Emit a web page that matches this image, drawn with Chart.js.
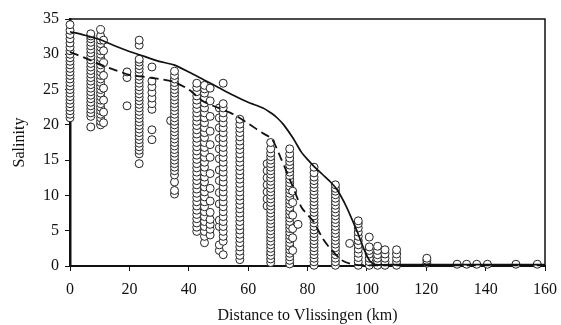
<!DOCTYPE html>
<html>
<head>
<meta charset="utf-8">
<script src="https://cdn.jsdelivr.net/npm/chart.js@4/dist/chart.umd.min.js"></script>
<style>
html,body{margin:0;padding:0;background:#fff;}
#wrap{width:561px;height:325px;}
</style>
</head>
<body>
<div id="wrap"><canvas id="c" width="561" height="325"></canvas></div>
<script>
// Station distances (km) and observed salinity at each station
const stationKm = [0, 7, 10.3, 11.3, 19.2, 23.3, 27.6, 33.9, 35.2, 42.7, 45.3, 47.2, 50.3, 51.6, 57.2, 66.4, 67.6, 74, 75, 76.8, 82.2, 89.4, 94.2, 97.1, 100.8, 103.6, 106.1, 110, 120.2, 130.4, 133.6, 137, 140.6, 150.2, 157.4];
const stationSalinity = [
  [21.0,21.5,22.0,22.5,23.0,23.5,24.0,24.5,25.0,25.5,26.0,26.5,27.0,27.5,28.0,28.5,29.0,29.5,30.0,30.5,31.0,31.6,32.2,32.8,33.4,34.2],
  [19.7,21.2,21.7,22.2,22.7,23.2,23.7,24.2,24.7,25.2,25.7,26.2,26.7,27.2,27.7,28.2,28.7,29.2,29.7,30.2,30.7,31.2,31.7,32.2,32.6,32.9],
  [20.0,20.5,21.0,21.5,22.0,22.5,23.0,23.5,24.0,24.5,25.0,25.5,26.0,26.5,27.0,27.5,28.0,28.5,29.0,29.5,30.0,30.5,31.0,31.5,32.0,32.6,33.5],
  [20.3,21.8,23.5,25.2,27.0,28.8,30.5,32.0],
  [22.7,26.7,27.5],
  [14.5,15.9,16.4,16.9,17.4,17.9,18.4,18.9,19.4,19.9,20.4,20.9,21.4,21.9,22.4,22.9,23.4,23.9,24.4,24.9,25.4,25.9,26.4,26.9,27.4,27.9,28.4,28.9,29.3,31.3,32.0],
  [17.9,19.3,22.2,23.0,23.8,24.6,25.4,26.2,28.2],
  [20.6],
  [10.2,10.7,11.9,12.9,13.5,14.0,14.5,15.0,15.5,16.0,16.5,17.0,17.5,18.0,18.5,19.0,19.5,20.0,20.5,21.0,21.5,22.0,22.5,23.0,23.5,24.0,24.5,25.0,25.5,26.0,26.5,27.0,27.6],
  [4.9,5.5,6.1,6.7,7.3,7.9,8.5,9.1,9.7,10.3,10.9,11.5,12.1,12.7,13.3,13.9,14.5,15.1,15.7,16.3,16.9,17.5,18.1,18.7,19.3,19.9,20.5,21.1,21.7,22.3,22.9,23.5,24.1,24.7,25.3,25.9],
  [3.3,4.2,4.9,5.6,6.3,7.0,7.7,8.4,9.1,9.8,10.5,11.2,11.9,12.6,13.3,14.0,14.7,15.4,16.1,16.8,17.5,18.2,18.9,19.6,20.3,21.0,21.7,22.4,23.1,23.8,24.5,25.1,25.6],
  [4.4,5.2,5.9,6.6,7.6,9.2,11.0,13.1,15.4,17.2,19.1,21.2,23.4,25.2],
  [2.2,3.0,5.6,6.5,8.8,10.4,12.1,13.6,15.2,16.6,18.1,19.6,21.0,22.4],
  [1.6,3.5,4.2,4.9,5.6,6.3,7.0,7.7,8.4,9.1,9.8,10.5,11.2,11.9,12.6,13.3,14.0,14.7,15.4,16.1,16.8,17.5,18.2,18.9,19.6,20.3,21.0,21.7,22.4,23.0,25.9],
  [0.9,1.5,2.1,2.7,3.3,3.9,4.5,5.1,5.7,6.3,6.9,7.5,8.1,8.7,9.3,9.9,10.5,11.1,11.7,12.3,12.9,13.5,14.1,14.7,15.3,15.9,16.5,17.1,17.7,18.3,18.9,19.5,20.1,20.8],
  [8.5,9.5,10.5,11.5,12.5,13.5,14.5],
  [0.5,1.0,1.5,2.0,2.5,3.0,3.5,4.0,4.5,5.0,5.5,6.0,6.5,7.0,7.5,8.0,8.5,9.0,9.5,10.0,10.5,11.0,11.5,12.0,12.5,13.0,13.5,14.0,14.5,15.0,15.5,16.0,16.6,17.5],
  [0.3,0.8,1.3,1.8,2.3,2.8,3.3,3.8,4.3,4.8,5.3,5.8,6.3,6.8,7.3,7.8,8.3,8.8,9.3,9.8,10.3,10.8,11.3,11.8,12.3,12.8,13.3,13.8,14.3,14.8,15.3,15.9,16.6],
  [2.2,4.0,5.3,7.2,9.0,10.6],
  [5.9],
  [0.1,0.6,1.1,1.6,2.1,2.6,3.1,3.6,4.1,4.6,5.1,5.6,6.1,6.6,7.1,7.6,8.1,8.6,9.1,9.6,10.1,10.6,11.1,11.6,12.1,12.6,13.2,14.0],
  [0.1,0.6,1.1,1.6,2.1,2.6,3.1,3.6,4.1,4.6,5.1,5.6,6.1,6.6,7.1,7.6,8.1,8.6,9.1,9.6,10.1,10.6,11.0,11.5],
  [3.2],
  [0.1,0.6,1.2,1.8,2.4,3.0,3.6,4.2,4.8,5.4,6.0,6.4],
  [0.1,0.6,1.1,1.7,2.2,2.7,4.1],
  [0.1,0.6,1.1,1.6,2.2,2.8],
  [0.1,0.6,1.1,1.7,2.3],
  [0.1,0.6,1.1,1.7,2.3],
  [0.4,0.8,1.1],
  [0.25],[0.25],[0.25],[0.25],[0.25],[0.25]
];

// Solid model line
const solidKm  = [0, 5, 10, 15, 20, 25, 30, 35, 40, 45, 50, 55, 60, 65, 68, 70, 72, 75, 78, 80, 82, 85, 88, 90, 93, 95, 97, 99, 101, 103, 110, 120, 130, 140, 150, 160];
const solidSal = [33.2, 32.7, 32.1, 31.2, 30.4, 29.7, 29.0, 28.5, 27.5, 26.4, 25.3, 24.2, 23.2, 22.4, 21.6, 20.9, 20.0, 18.2, 16.1, 15.1, 14.2, 13.0, 11.8, 10.8, 8.5, 6.6, 4.6, 2.4, 0.7, 0.2, 0.2, 0.2, 0.2, 0.2, 0.2, 0.2];

// Dashed model line
const dashedKm  = [0, 5, 10, 15, 20, 25, 30, 35, 40, 45, 50, 55, 60, 65, 68, 71, 75, 78, 82, 85, 88, 92, 96, 100, 110, 160];
const dashedSal = [30.3, 29.5, 28.6, 27.8, 27.1, 26.8, 26.5, 26.1, 25.0, 23.3, 22.4, 21.5, 20.2, 18.8, 18.0, 15.3, 11.3, 8.3, 6.3, 4.0, 2.3, 0.7, 0.2, 0.1, 0.1, 0.1];

const xTicks = [0, 20, 40, 60, 80, 100, 120, 140, 160];
const yTicks = [0, 5, 10, 15, 20, 25, 30, 35];

const obsPoints = [];
stationKm.forEach((km, i) => stationSalinity[i].forEach(s => obsPoints.push({x: km, y: s})));
const solidPoints = solidKm.map((k, i) => ({x: k, y: solidSal[i]}));
const dashedPoints = dashedKm.map((k, i) => ({x: k, y: dashedSal[i]}));

const INK = '#111';
Chart.defaults.font.family = "'Liberation Serif', 'Times New Roman', serif";
Chart.defaults.color = INK;

const framePlugin = {
  id: 'frame',
  afterDatasetsDraw(chart) {
    const {ctx, chartArea: a} = chart;
    ctx.save();
    ctx.strokeStyle = INK;
    ctx.lineWidth = 1.5;
    ctx.beginPath();
    ctx.moveTo(a.left, a.top);
    ctx.lineTo(a.right, a.top);
    ctx.lineTo(a.right, a.bottom);
    ctx.stroke();
    ctx.restore();
  }
};

new Chart(document.getElementById('c'), {
  type: 'scatter',
  data: {
    datasets: [
      {
        data: solidPoints, showLine: true, pointRadius: 0, borderColor: INK,
        borderWidth: 1.7, tension: 0.25, clip: false
      },
      {
        data: dashedPoints, showLine: true, pointRadius: 0, borderColor: INK,
        borderWidth: 1.8, borderDash: [9, 5], tension: 0.25, clip: false
      },
      {
        data: obsPoints, showLine: false, pointRadius: 4, pointHoverRadius: 4,
        pointBackgroundColor: '#fff', pointBorderColor: '#222', pointBorderWidth: 1, clip: false
      }
    ]
  },
  options: {
    responsive: false,
    animation: false,
    events: [],
    layout: {padding: {top: 19, right: 16, left: 0, bottom: 0}},
    plugins: {legend: {display: false}, tooltip: {enabled: false}},
    scales: {
      x: {
        type: 'linear', min: 0, max: 160,
        afterBuildTicks: s => { s.ticks = xTicks.map(v => ({value: v})); },
        afterFit: s => { s.height = 59; s.paddingLeft = 0; s.paddingRight = 0; },
        ticks: {font: {size: 16}, padding: 9, color: INK},
        grid: {drawOnChartArea: false, drawTicks: true, tickLength: 5, tickColor: INK, tickWidth: 1},
        border: {display: true, color: INK, width: 2},
        title: {display: true, text: 'Distance to Vlissingen (km)', font: {size: 16}, color: INK, padding: {top: 0, bottom: 0}}
      },
      y: {
        type: 'linear', min: 0, max: 35,
        afterBuildTicks: s => { s.ticks = yTicks.map(v => ({value: v})); },
        afterFit: s => { s.width = 70; s.paddingTop = 0; s.paddingBottom = 0; },
        ticks: {font: {size: 16}, padding: 6, color: INK},
        grid: {drawOnChartArea: false, drawTicks: true, tickLength: 5, tickColor: INK, tickWidth: 1},
        border: {display: true, color: INK, width: 2.5},
        title: {display: true, text: 'Salinity', font: {size: 16}, color: INK, padding: {top: 10, bottom: 0}}
      }
    }
  },
  plugins: [framePlugin]
});
</script>
</body>
</html>
